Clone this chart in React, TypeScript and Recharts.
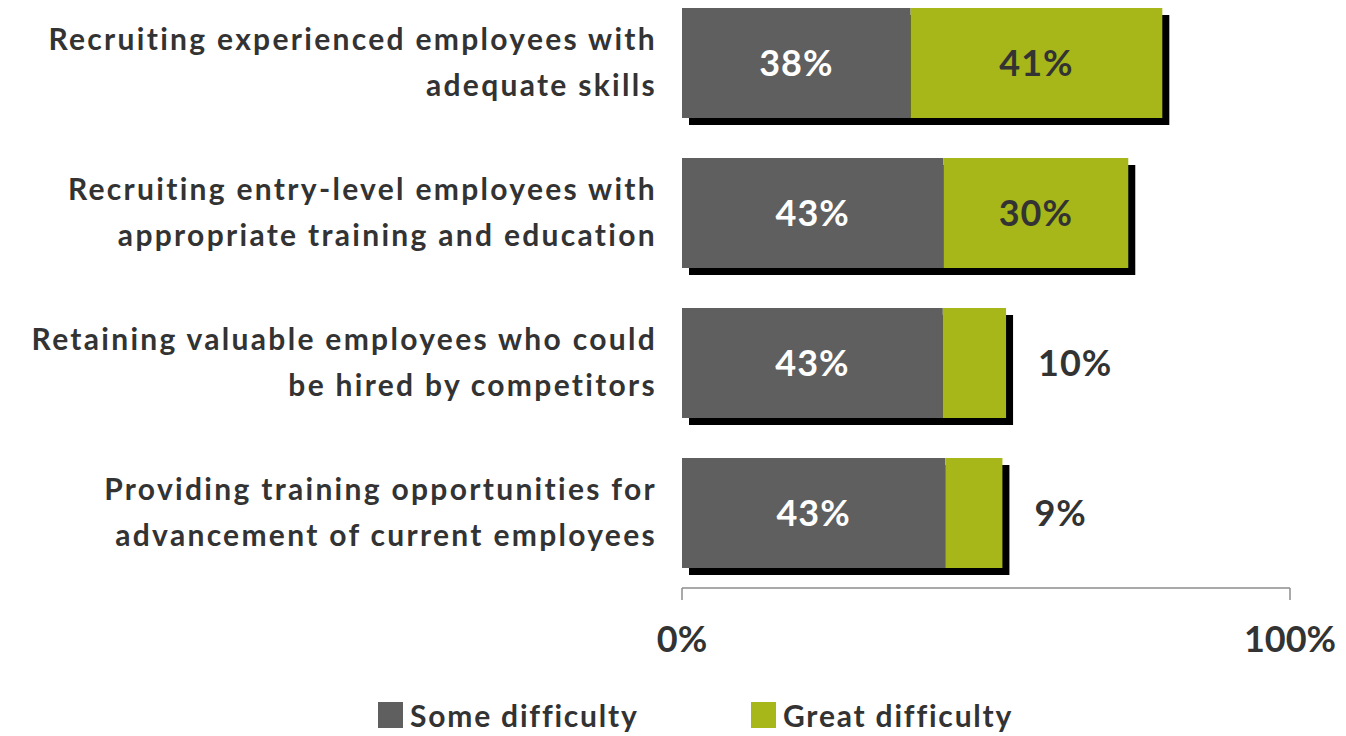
import { BarChart, Bar, XAxis, YAxis, LabelList } from "recharts";

const categories = [
  "Recruiting experienced employees with\nadequate skills",
  "Recruiting entry-level employees with\nappropriate training and education",
  "Retaining valuable employees who could\nbe hired by competitors",
  "Providing training opportunities for\nadvancement of current employees",
];
const someDifficulty = [37.6, 43, 42.9, 43.3];
const greatDifficulty = [41.4, 30.4, 10.4, 9.4];
const xTicks = [0, 100];

const GRAY = "#5f5f5f";
const GREEN = "#a7b719";
const DARK = "#333333";
const FONT = "Lato, 'Open Sans', sans-serif";

const data = categories.map((name, i) => ({
  name,
  some: someDifficulty[i],
  great: greatDifficulty[i],
}));

function RowTick({ y, payload }: any) {
  const lines = String(payload.value).split("\n");
  return (
    <text
      x={657}
      y={y}
      textAnchor="end"
      fill={DARK}
      fontFamily={FONT}
      fontWeight={700}
      fontSize={30}
      letterSpacing={2.3}
    >
      <tspan x={657} y={y - 13}>{lines[0]}</tspan>
      <tspan x={657} y={y + 33}>{lines[1]}</tspan>
    </text>
  );
}

function SomeShape(props: any) {
  const { x, y, width, height, payload } = props;
  const total = payload.some + payload.great;
  const fullWidth = (width * total) / payload.some;
  return (
    <g>
      <rect x={x + 7} y={y + 7} width={fullWidth} height={height} fill="#000" />
      <rect x={x} y={y} width={width} height={height} fill={GRAY} />
    </g>
  );
}

function GreatLabel(props: any) {
  const { x, y, width, height, value } = props;
  const text = `${Math.round(value)}%`;
  const inside = value >= 20;
  return (
    <text
      x={inside ? x + width / 2 : x + width + 32}
      y={y + height / 2}
      dy="0.36em"
      textAnchor={inside ? "middle" : "start"}
      fill={DARK}
      fontFamily={FONT}
      fontWeight={700}
      fontSize={36}
      letterSpacing={1}
    >
      {text}
    </text>
  );
}

function SomeLabel(props: any) {
  const { x, y, width, height, value } = props;
  return (
    <text
      x={x + width / 2}
      y={y + height / 2}
      dy="0.36em"
      textAnchor="middle"
      fill="#ffffff"
      fontFamily={FONT}
      fontWeight={700}
      fontSize={36}
      letterSpacing={1}
    >
      {`${Math.round(value)}%`}
    </text>
  );
}

function LegendItem({ color, label, left }: { color: string; label: string; left: number }) {
  return (
    <div style={{ position: "absolute", left, top: 697, display: "flex", alignItems: "center" }}>
      <div style={{ width: 25, height: 26, background: color, marginRight: 7 }} />
      <span
        style={{ fontSize: 30, fontWeight: 700, color: DARK, fontFamily: FONT, letterSpacing: 1.8, whiteSpace: "nowrap" }}
      >
        {label}
      </span>
    </div>
  );
}

export default function App() {
  return (
    <div style={{ position: "absolute", left: 0, top: 0, width: 1346, height: 736, background: "#fff" }}>
      <BarChart
        width={1346}
        height={736}
        data={data}
        layout="vertical"
        margin={{ top: -12, right: 56, bottom: 48, left: 0 }}
      >
        <XAxis
          type="number"
          domain={[0, 100]}
          ticks={xTicks}
          tickFormatter={(v: number) => `${v}%`}
          axisLine={{ stroke: "#8c8c8c", strokeWidth: 1.5 }}
          tickLine={{ stroke: "#8c8c8c", strokeWidth: 1.5 }}
          tickSize={12}
          tickMargin={26}
          height={100}
          tick={{ fill: DARK, fontSize: 36, fontWeight: 700, fontFamily: FONT }}
          interval={0}
        />
        <YAxis
          type="category"
          dataKey="name"
          width={682}
          axisLine={false}
          tickLine={false}
          tick={<RowTick />}
          interval={0}
        />
        <Bar dataKey="some" stackId="a" barSize={110} shape={<SomeShape />} isAnimationActive={false}>
          <LabelList dataKey="some" content={<SomeLabel />} />
        </Bar>
        <Bar dataKey="great" stackId="a" barSize={110} fill={GREEN} isAnimationActive={false}>
          <LabelList dataKey="great" content={<GreatLabel />} />
        </Bar>
      </BarChart>
      <LegendItem color={GRAY} label="Some difficulty" left={378} />
      <LegendItem color={GREEN} label="Great difficulty" left={751} />
    </div>
  );
}
